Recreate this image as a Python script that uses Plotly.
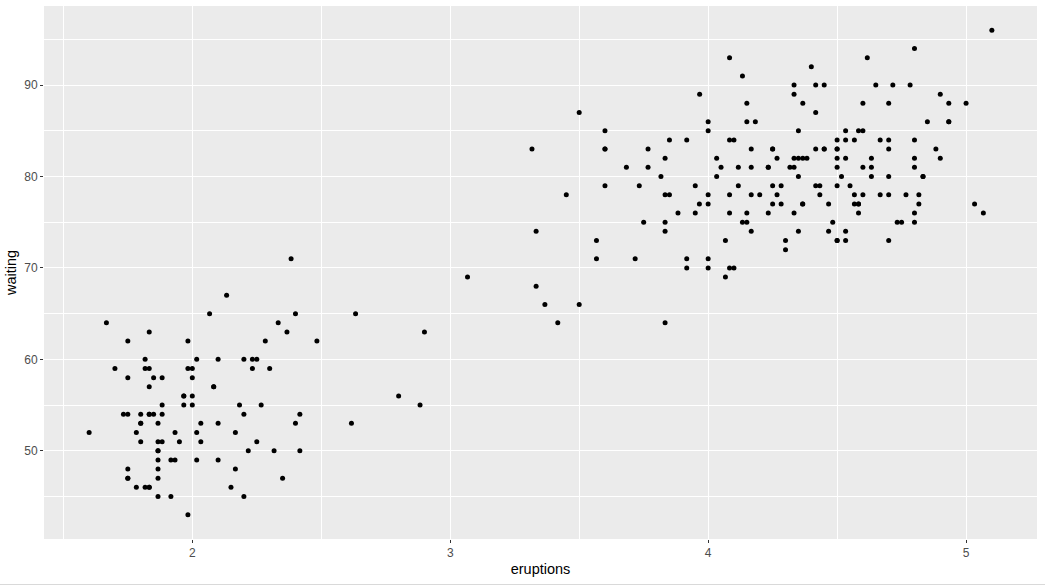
import plotly.graph_objects as go

eruptions = [3.600,1.800,3.333,2.283,4.533,2.883,4.700,3.600,1.950,4.350,1.833,3.917,4.200,1.750,4.700,2.167,1.750,4.800,1.600,4.250,
1.800,1.750,3.450,3.067,4.533,3.600,1.967,4.083,3.850,4.433,4.300,4.467,3.367,4.033,3.833,2.017,1.867,4.833,1.833,4.783,
4.350,1.883,4.567,1.750,4.533,3.317,3.833,2.100,4.633,2.000,4.800,4.716,1.833,4.833,1.733,4.883,3.717,1.667,4.567,4.317,
2.233,4.500,1.750,4.800,1.817,4.400,4.167,4.700,2.067,4.700,4.033,1.967,4.500,4.000,1.983,5.067,2.017,4.567,3.883,3.600,
4.133,4.333,4.100,2.633,4.067,4.933,3.950,4.517,2.167,4.000,2.200,4.333,1.867,4.817,1.833,4.300,4.667,3.750,1.867,4.900,
2.483,4.367,2.100,4.500,4.050,1.867,4.700,1.783,4.850,3.683,4.733,2.300,4.900,4.417,1.700,4.633,2.317,4.600,1.817,4.417,
2.617,4.067,4.250,1.967,4.600,3.767,1.917,4.500,2.267,4.650,1.867,4.167,2.800,4.333,1.833,4.383,1.883,4.933,2.033,3.733,
4.233,2.233,4.533,4.817,4.333,1.983,4.633,2.017,5.100,1.800,5.033,4.000,2.400,4.600,3.567,4.000,4.500,4.083,1.800,3.967,
2.200,4.150,2.000,3.833,3.500,4.583,2.367,5.000,1.933,4.617,1.917,2.083,4.583,3.333,4.167,4.333,4.500,2.417,4.000,4.167,
1.883,4.583,4.250,3.767,2.033,4.433,4.083,1.833,4.417,2.183,4.800,1.833,4.800,4.100,3.966,4.233,3.500,4.366,2.250,4.667,
2.100,4.350,4.133,1.867,4.600,1.783,4.367,3.850,1.933,4.500,2.383,4.700,1.867,3.833,3.417,4.233,2.400,4.800,2.000,4.150,
1.867,4.267,1.750,4.483,4.000,4.117,4.083,4.267,3.917,4.550,4.083,2.417,4.183,2.217,4.450,1.883,1.850,4.283,3.950,2.333,
4.150,2.350,4.933,2.900,4.583,3.833,2.083,4.367,2.133,4.350,2.200,4.450,3.567,4.500,4.150,3.817,3.917,4.450,2.000,4.283,
4.767,4.533,1.850,4.250,1.983,2.250,4.750,4.117,2.150,4.417,1.817,4.467]

waiting = [79,54,74,62,85,55,88,85,51,85,54,84,78,47,83,52,62,84,52,79,
51,47,78,69,74,83,55,76,78,79,73,77,66,80,74,52,48,80,59,90,
80,58,84,58,73,83,64,53,82,59,75,90,54,80,54,83,71,64,77,81,
59,84,48,82,60,92,78,78,65,73,82,56,79,71,62,76,60,78,76,83,
75,82,70,65,73,88,76,80,48,86,60,90,50,78,63,72,84,75,51,82,
62,88,49,83,81,47,84,52,86,81,75,59,89,79,59,81,50,85,59,87,
53,69,77,56,88,81,45,82,55,90,45,83,56,89,46,82,51,86,53,79,
81,60,82,77,76,59,80,49,96,53,77,77,65,81,71,70,81,93,53,89,
45,86,58,78,66,76,63,88,52,93,49,57,77,68,81,81,73,50,85,74,
55,77,83,83,51,78,84,46,83,55,81,57,76,84,77,81,87,77,51,78,
60,82,91,53,78,46,77,84,49,83,71,80,49,75,64,76,53,94,55,76,
50,82,54,75,78,79,78,78,70,79,70,54,86,50,90,54,54,77,79,64,
75,47,86,63,85,82,57,82,67,74,54,83,73,73,88,80,71,83,56,79,
78,84,58,83,43,60,75,81,46,90,46,74]

x_ticks = [2, 3, 4, 5]
y_ticks = [50, 60, 70, 80, 90]

fig = go.Figure()
fig.add_trace(go.Scatter(
    x=eruptions, y=waiting, mode="markers",
    marker=dict(color="black", size=5, line=dict(width=0)),
    showlegend=False, hoverinfo="x+y"))

xmin, xmax = min(eruptions), max(eruptions)
ymin, ymax = min(waiting), max(waiting)
dx = (xmax - xmin) * 0.05
dy = (ymax - ymin) * 0.05

axis_common = dict(
    showgrid=True, gridcolor="white", gridwidth=1.1,
    zeroline=False, showline=False, automargin=False,
    ticks="outside", ticklen=3, tickwidth=1.1, tickcolor="#333333",
    tickfont=dict(family="Liberation Sans, Arial, sans-serif", size=12, color="#4D4D4D"),
    title_font=dict(family="Liberation Sans, Arial, sans-serif", size=14.5, color="black"),
)

fig.update_xaxes(
    range=[xmin - dx, xmax + dx], tickvals=x_ticks, ticktext=[str(v) for v in x_ticks],
    minor=dict(tickvals=[1.5, 2.5, 3.5, 4.5], showgrid=True, gridcolor="white", gridwidth=0.55, ticks=""),
    title=dict(text="eruptions", standoff=4), **axis_common)
fig.update_yaxes(
    range=[ymin - dy, ymax + dy], tickvals=y_ticks, ticktext=[str(v) for v in y_ticks],
    minor=dict(tickvals=[45, 55, 65, 75, 85, 95], showgrid=True, gridcolor="white", gridwidth=0.55, ticks=""),
    title=dict(text="waiting", standoff=4), **axis_common)

fig.update_layout(
    width=1045, height=586,
    margin=dict(l=44, r=8, t=6, b=47),
    plot_bgcolor="#EBEBEB", paper_bgcolor="white",
    font=dict(family="Liberation Sans, Arial, sans-serif"),
)

fig.add_shape(type="line", xref="paper", yref="paper",
              x0=-44/993, x1=1.0 + 8/993, y0=-(584.5-539)/533, y1=-(584.5-539)/533,
              line=dict(color="#D9D9D9", width=1))

fig.write_html("out.html", config={"displayModeBar": False},
               post_script="document.body.style.margin='0';document.body.style.overflow='hidden';")
